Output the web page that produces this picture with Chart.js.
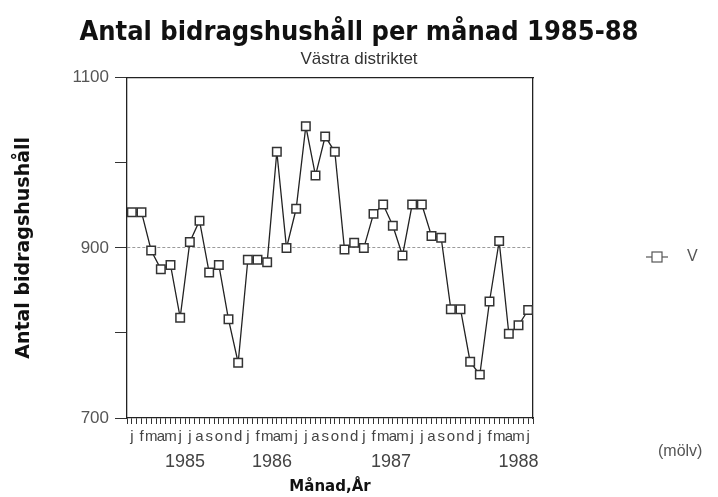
<!DOCTYPE html>
<html>
<head>
<meta charset="utf-8">
<script src="https://cdn.jsdelivr.net/npm/chart.js@4"></script>
<style>
html,body{margin:0;padding:0;background:#fff;}
#wrap{width:718px;height:497px;}
</style>
</head>
<body>
<div id="wrap"><canvas id="c" width="718" height="497"></canvas></div>
<script>
// ---- data ----
const monthLetters = ['j','f','m','a','m','j','j','a','s','o','n','d'];
const years = ['1985','1986','1987','1988'];
const yearTickPositions = [5.5, 14.5, 26.8, 40];
const values1985 = [942, 942, 897, 875, 880, 818, 907, 932, 871, 880, 816, 765];
const values1986 = [886, 886, 883, 1013, 900, 946, 1043, 985, 1031, 1013, 898, 906];
const values1987 = [900, 940, 951, 926, 891, 951, 951, 914, 912, 828, 828, 766];
const values1988 = [751, 837, 908, 799, 809, 827];
const seriesLabel = 'V';
const yTicks = [700, 900, 1100];

const values = [].concat(values1985, values1986, values1987, values1988);
const points = values.map((v, i) => ({x: i, y: v}));
const nPts = values.length;

const framePlugin = {
  id: 'extras',
  afterDraw(chart) {
    const ctx = chart.ctx;
    const ds = chart.data.datasets[0];
    ctx.save();
    // legend
    const ly = 257, lx = 646;
    ctx.strokeStyle = '#555';
    ctx.lineWidth = 1.2;
    ctx.beginPath(); ctx.moveTo(lx, ly); ctx.lineTo(lx + 22, ly); ctx.stroke();
    ctx.fillStyle = '#fff';
    ctx.fillRect(lx + 6, ly - 5, 10, 10);
    ctx.strokeRect(lx + 6, ly - 5, 10, 10);
    ctx.fillStyle = '#555';
    ctx.font = '16px "Liberation Sans Narrow", "Liberation Sans", sans-serif';
    ctx.textBaseline = 'middle';
    ctx.textAlign = 'left';
    ctx.fillText(ds.label, 687, ly);
    // note
    ctx.fillText('(mölv)', 658, 452);
    ctx.restore();
  }
};

new Chart(document.getElementById('c'), {
  type: 'line',
  data: {
    datasets: [{
      label: seriesLabel,
      data: points,
      borderColor: '#222',
      borderWidth: 1.3,
      tension: 0,
      pointStyle: 'rect',
      pointRadius: 6,
      pointBackgroundColor: '#fff',
      pointBorderColor: '#333',
      pointBorderWidth: 1.5,
      xAxisID: 'x',
      yAxisID: 'y'
    }]
  },
  options: {
    responsive: false,
    animation: false,
    layout: {padding: 0},
    plugins: {
      legend: {display: false},
      tooltip: {enabled: false},
      title: {
        display: true,
        text: 'Antal bidragshushåll per månad 1985-88',
        color: '#111',
        font: {family: '"Liberation Sans Narrow", "DejaVu Sans Condensed", sans-serif', size: 27, weight: 'bold'},
        padding: {top: 17, bottom: 0}
      },
      subtitle: {
        display: true,
        text: 'Västra distriktet',
        color: '#333',
        font: {family: '"Liberation Sans Narrow", "Liberation Sans", sans-serif', size: 17},
        padding: {top: 0, bottom: 0}
      }
    },
    scales: {
      x: {
        type: 'linear',
        position: 'bottom',
        weight: 0,
        min: -0.5,
        max: nPts - 0.5,
        afterFit: s => { s.height = 30; },
        ticks: {
          stepSize: 0.5,
          autoSkip: false,
          maxRotation: 0,
          padding: 4,
          color: '#444',
          font: {family: '"Liberation Sans Narrow", "Liberation Sans", sans-serif', size: 15},
          callback: v => {
            const r = Math.round(v);
            return Math.abs(v - r) < 1e-6 ? monthLetters[((r % 12) + 12) % 12] : '';
          }
        },
        grid: {drawOnChartArea: false, tickLength: 6, tickColor: '#333', color: '#333'},
        border: {display: true, color: '#222', width: 1.3}
      },
      xYear: {
        type: 'linear',
        position: 'bottom',
        weight: 1,
        min: -0.5,
        max: nPts - 0.5,
        afterFit: s => { s.height = 49; },
        afterBuildTicks: s => { s.ticks = yearTickPositions.map(v => ({value: v})); },
        ticks: {
          autoSkip: false,
          maxRotation: 0,
          padding: 3,
          color: '#444',
          font: {family: '"Liberation Sans Narrow", "Liberation Sans", sans-serif', size: 18},
          callback: (v, i) => years[i]
        },
        grid: {display: false, drawTicks: false},
        border: {display: false},
        title: {
          display: true,
          text: 'Månad,År',
          color: '#111',
          font: {family: '"DejaVu Sans", sans-serif', size: 15, weight: 'bold'},
          padding: {top: 0, bottom: 1}
        }
      },
      xT: {
        type: 'linear',
        position: 'top',
        display: true,
        afterFit: s => { s.height = 8; },
        ticks: {display: false},
        grid: {display: false, drawTicks: false},
        border: {display: true, color: '#222', width: 1.3}
      },
      y: {
        type: 'linear',
        position: 'left',
        min: 700,
        max: 1100,
        afterFit: s => { s.width = 127; },
        afterBuildTicks: s => {
          const t = [];
          for (let v = 700; v <= 1100; v += 100) t.push({value: v});
          s.ticks = t;
        },
        ticks: {
          padding: 6,
          color: '#555',
          font: {family: '"Liberation Sans", sans-serif', size: 17},
          callback: v => yTicks.includes(v) ? String(v) : ''
        },
        grid: {
          drawOnChartArea: true,
          tickLength: 12,
          color: c => (c.tick && c.tick.value === 900) ? '#9a9a9a' : 'rgba(0,0,0,0)',
          tickColor: '#333'
        },
        border: {display: true, color: '#222', width: 1.3, dash: c => (c.tick && c.tick.value === 900) ? [3, 2] : []},
        title: {
          display: true,
          text: 'Antal bidragshushåll',
          color: '#111',
          font: {family: '"DejaVu Sans", sans-serif', size: 19, weight: 'bold'},
          padding: {top: 13}
        }
      },
      yR: {
        type: 'linear',
        position: 'right',
        display: true,
        afterFit: s => { s.width = 185; },
        ticks: {display: false},
        grid: {display: false, drawTicks: false},
        border: {display: true, color: '#222', width: 1.3}
      }
    }
  },
  plugins: [framePlugin]
});
</script>
</body>
</html>
